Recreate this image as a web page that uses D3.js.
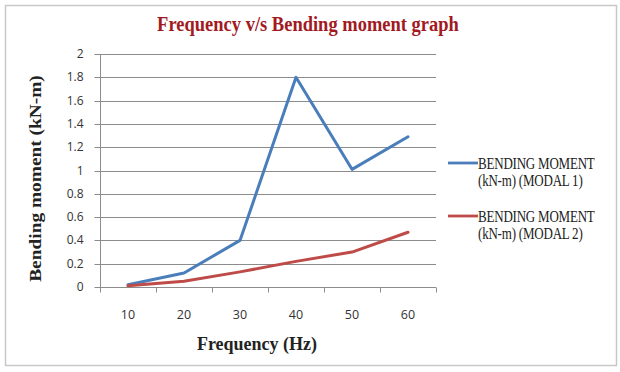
<!DOCTYPE html>
<html>
<head>
<meta charset="utf-8">
<script src="https://cdn.jsdelivr.net/npm/d3@7"></script>
<style>
  body { margin: 0; background: #fff; }
</style>
</head>
<body>
<div id="chart"></div>
<script>
var frequencies = [10, 20, 30, 40, 50, 60];
var modal1 = [0.02, 0.12, 0.40, 1.80, 1.01, 1.29];
var modal2 = [0.01, 0.05, 0.13, 0.22, 0.30, 0.47];
var yTicks = [0, 0.2, 0.4, 0.6, 0.8, 1, 1.2, 1.4, 1.6, 1.8, 2];
var seriesNames = [
  ['BENDING MOMENT', '(kN-m) (MODAL 1)'],
  ['BENDING MOMENT', '(kN-m) (MODAL 2)']
];

var W = 620, H = 372;
var plot = { left: 100, right: 436, top: 54, bottom: 287 };
var colors = ['#4a7ebb', '#be4b48'];
var serif = '"Liberation Serif", "Times New Roman", serif';
var sans = '"Open Sans", sans-serif';

var svg = d3.select('#chart').append('svg').attr('width', W).attr('height', H);

// chart frame
svg.append('rect').attr('x', 5.5).attr('y', 5.5).attr('width', 611).attr('height', 360)
  .attr('fill', '#fff').attr('stroke', '#c8c8c8').attr('stroke-width', 1.5);

var x = d3.scaleBand().domain(frequencies).range([plot.left, plot.right]);
var y = d3.scaleLinear().domain([0, 2]).range([plot.bottom, plot.top]);

// gridlines
svg.append('g').selectAll('line').data(yTicks.slice(1)).enter().append('line')
  .attr('x1', plot.left).attr('x2', plot.right)
  .attr('y1', function (d) { return Math.round(y(d)) + 0.5; })
  .attr('y2', function (d) { return Math.round(y(d)) + 0.5; })
  .attr('stroke', '#8c8c8c').attr('stroke-width', 1);

// y axis
var yAxis = svg.append('g').attr('transform', 'translate(' + (plot.left + 0.5) + ',0)')
  .call(d3.axisLeft(y).tickValues(yTicks).tickSize(6).tickPadding(11).tickFormat(d3.format('~g')));
yAxis.select('.domain').attr('stroke', '#8c8c8c').attr('d', 'M0,' + plot.top + 'V' + plot.bottom);
yAxis.selectAll('.tick line').attr('stroke', '#8c8c8c');
yAxis.selectAll('.tick').attr('transform', function (d) { return 'translate(0,' + (Math.round(y(d)) + 0.5) + ')'; });
yAxis.selectAll('text').attr('font-family', sans).attr('font-size', 12).attr('fill', '#333');

// x axis (ticks at category boundaries)
var xAxisG = svg.append('g').attr('transform', 'translate(0,' + (Math.round(y(0)) + 0.5) + ')');
xAxisG.append('line').attr('x1', plot.left).attr('x2', plot.right).attr('stroke', '#8c8c8c');
var bounds = frequencies.map(function (f) { return x(f); }).concat([plot.right]);
xAxisG.selectAll('.tk').data(bounds).enter().append('line').attr('class', 'tk')
  .attr('x1', function (d) { return Math.round(d) + 0.5; }).attr('x2', function (d) { return Math.round(d) + 0.5; })
  .attr('y1', 0).attr('y2', 5).attr('stroke', '#8c8c8c');
xAxisG.selectAll('text').data(frequencies).enter().append('text')
  .attr('x', function (d) { return x(d) + x.bandwidth() / 2; })
  .attr('y', 31).attr('text-anchor', 'middle')
  .attr('font-family', sans).attr('font-size', 12.5).attr('fill', '#333')
  .text(function (d) { return d; });

// lines
var line = d3.line()
  .x(function (d, i) { return x(frequencies[i]) + x.bandwidth() / 2; })
  .y(function (d) { return y(d); });
[modal1, modal2].forEach(function (s, i) {
  svg.append('path').datum(s).attr('d', line)
    .attr('fill', 'none').attr('stroke', colors[i]).attr('stroke-width', 3)
    .attr('stroke-linejoin', 'round').attr('stroke-linecap', 'round');
});

// title
svg.append('text').attr('transform', 'translate(308,31) scale(1,1.08)').attr('text-anchor', 'middle')
  .attr('font-family', serif).attr('font-weight', 'bold')
  .attr('font-size', 18.5).attr('fill', '#a21a1f')
  .text('Frequency v/s Bending moment graph');

// axis titles
svg.append('text').attr('transform', 'translate(257,350) scale(1,1.08)').attr('text-anchor', 'middle')
  .attr('font-family', serif).attr('font-weight', 'bold')
  .attr('font-size', 18).attr('fill', '#222').text('Frequency (Hz)');
svg.append('text').attr('transform', 'translate(41,178.5) rotate(-90) scale(1.14,1)').attr('text-anchor', 'middle')
  .attr('font-family', serif).attr('font-weight', 'bold')
  .attr('font-size', 17).attr('fill', '#222').text('Bending moment  (kN-m)');

// legend
var legend = svg.append('g');
seriesNames.forEach(function (name, i) {
  var ly = 163 + i * 53;
  legend.append('line').attr('x1', 448).attr('x2', 478).attr('y1', ly).attr('y2', ly)
    .attr('stroke', colors[i]).attr('stroke-width', 2.8);
  name.forEach(function (t, j) {
    legend.append('text').attr('transform', 'translate(478,' + (ly + 5.5 + j * 17) + ') scale(1,1.3)')
      .attr('font-family', serif).attr('font-size', 13)
      .attr('fill', '#222').attr('letter-spacing', -0.2).text(t);
  });
});
</script>
</body>
</html>
